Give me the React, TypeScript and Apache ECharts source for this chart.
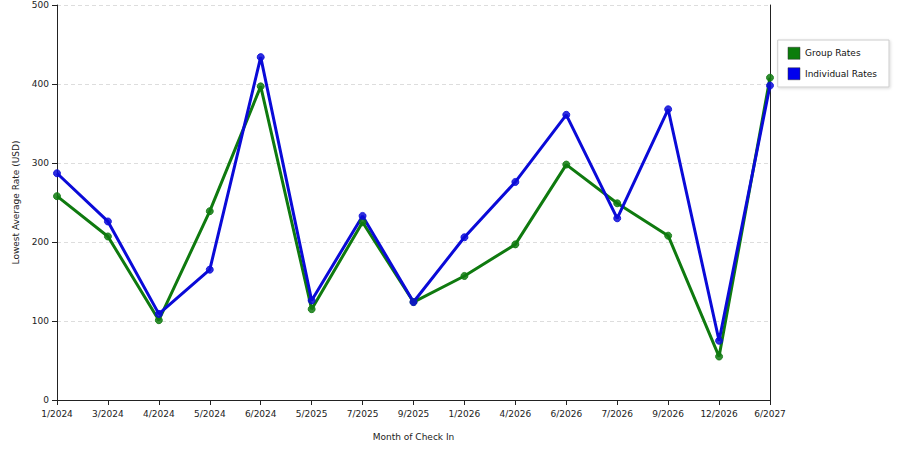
import * as echarts from "echarts";
import React, { useEffect, useRef } from "react";

const months = [
  "1/2024", "3/2024", "4/2024", "5/2024", "6/2024", "5/2025", "7/2025", "9/2025",
  "1/2026", "4/2026", "6/2026", "7/2026", "9/2026", "12/2026", "6/2027",
];
const groupRates = [258, 207, 101, 239, 397, 115, 225, 124, 157, 197, 298, 249, 208, 55, 408];
const individualRates = [287, 226, 109, 165, 434, 126, 233, 124, 206, 276, 361, 230, 368, 75, 398];

const GREEN = "#0f7a0f";
const BLUE = "#0a0ad8";
const FONT = "DejaVu Sans";

const App: React.FC = () => {
  const chartRef = useRef<HTMLDivElement>(null);

  useEffect(() => {
    if (!chartRef.current) return;
    const chart = echarts.init(chartRef.current, null, { renderer: "svg" });

    const lineSeries = (name: string, data: number[], color: string) => ({
      name,
      type: "line",
      data,
      symbol: "circle",
      symbolSize: 7,
      lineStyle: { width: 3, color },
      itemStyle: { color, borderColor: color, opacity: 0.85 },
      emphasis: { disabled: true },
    });

    chart.setOption({
      animation: false,
      textStyle: { fontFamily: FONT },
      grid: { left: 57, right: 130, top: 5, bottom: 50 },
      legend: {
        orient: "vertical",
        right: 11,
        top: 40,
        itemWidth: 12,
        itemHeight: 12,
        itemGap: 8,
        padding: [7, 12, 7, 10],
        borderColor: "#cccccc",
        borderWidth: 1,
        shadowColor: "rgba(0,0,0,0.15)",
        shadowBlur: 3,
        shadowOffsetX: 1,
        shadowOffsetY: 1,
        backgroundColor: "#ffffff",
        icon: "rect",
        textStyle: { fontSize: 9, color: "#111", fontFamily: FONT },
        data: [
          { name: "Group Rates", itemStyle: { color: "#0b7d0b", borderColor: "#333", borderWidth: 0.5, opacity: 1 } },
          { name: "Individual Rates", itemStyle: { color: "#0000ee", borderColor: "#333", borderWidth: 0.5, opacity: 1 } },
        ],
      },
      xAxis: {
        type: "category",
        data: months,
        boundaryGap: false,
        name: "Month of Check In",
        nameLocation: "middle",
        nameGap: 32,
        nameTextStyle: { fontSize: 9, color: "#222" },
        axisLine: { lineStyle: { color: "#222", width: 1 } },
        axisTick: { show: true, length: 5, alignWithLabel: true, lineStyle: { color: "#222" } },
        axisLabel: { fontSize: 9, color: "#222", margin: 9, interval: 0 },
        splitLine: { show: false },
      },
      yAxis: [
        {
          type: "value",
          min: 0,
          max: 500,
          interval: 100,
          name: "Lowest Average Rate (USD)",
          nameLocation: "middle",
          nameGap: 35,
          nameTextStyle: { fontSize: 9, color: "#222" },
          axisLine: { show: true, lineStyle: { color: "#222", width: 1 } },
          axisTick: { show: true, length: 5, lineStyle: { color: "#222" } },
          axisLabel: { fontSize: 9, color: "#222", margin: 8 },
          splitLine: { show: true, lineStyle: { type: [4, 3], color: "#dddddd", width: 1 } },
        },
        {
          type: "value",
          min: 0,
          max: 500,
          interval: 100,
          position: "right",
          axisLine: { show: true, lineStyle: { color: "#222", width: 1 } },
          axisTick: { show: false },
          axisLabel: { show: false },
          splitLine: { show: false },
        },
      ],
      series: [
        lineSeries("Group Rates", groupRates, GREEN),
        lineSeries("Individual Rates", individualRates, BLUE),
      ],
    });

    return () => {
      chart.dispose();
    };
  }, []);

  return (
    <div
      ref={chartRef}
      style={{ position: "absolute", left: 0, top: 0, width: "900px", height: "450px" }}
    ></div>
  );
};

export default App;
